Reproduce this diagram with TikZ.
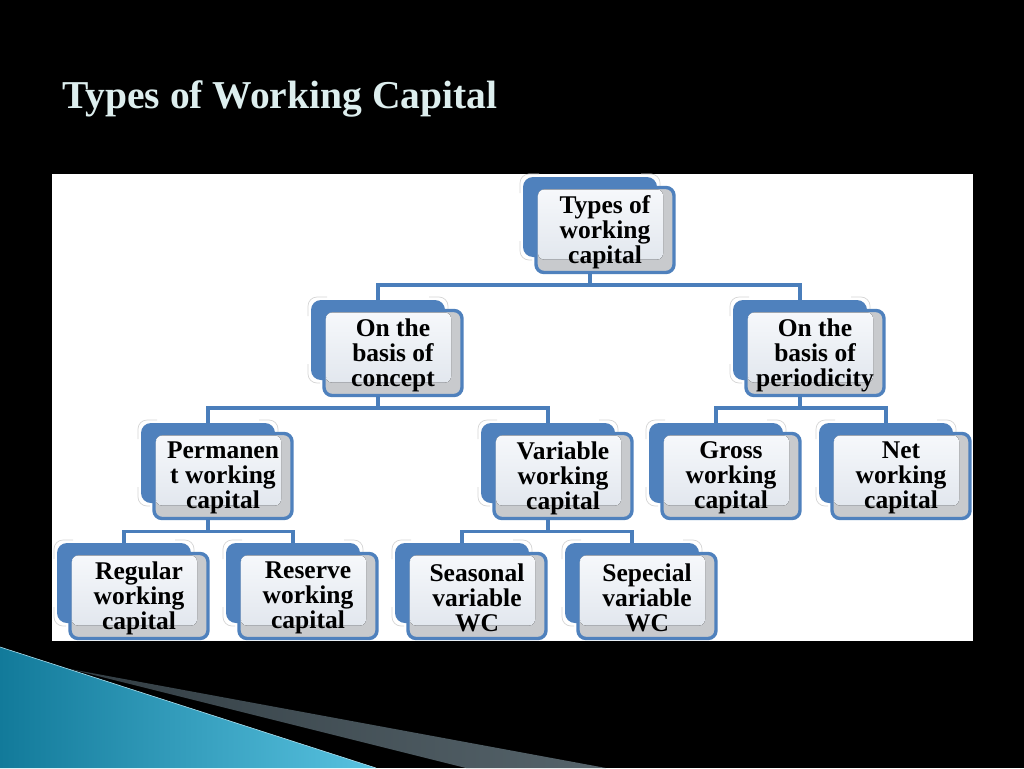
\documentclass[tikz,border=0pt]{standalone}
\usepackage{fontspec}
\setmainfont{Liberation Serif}
\usetikzlibrary{calc}
\definecolor{wcblue}{HTML}{4F81BD}
\definecolor{wcline}{HTML}{4A7EBB}
\definecolor{wcshadow}{HTML}{C8CACD}
\definecolor{wctop}{HTML}{F6F8FB}
\definecolor{wcbot}{HTML}{E2E7EE}
\definecolor{titlecol}{HTML}{DDEEEE}
\definecolor{tealdark}{HTML}{127A9A}
\definecolor{teallight}{HTML}{58C2E0}
\definecolor{slatedark}{HTML}{323D43}
\definecolor{slatelight}{HTML}{56646B}

\newcommand\wcbox[4]{%
  \node[backbox] (#1) at (#2,#3) {};
  \draw[glint] ([shift={(-3,16)}]#1.north west) -- ([shift={(-3,-3)}]#1.north west) -- ([shift={(16,-3)}]#1.north west);
  \draw[glint] ([shift={(-16,-3)}]#1.north east) -- ([shift={(3,-3)}]#1.north east) -- ([shift={(3,12)}]#1.north east);
  \draw[glint] ([shift={(-3,-16)}]#1.south west) -- ([shift={(-3,3)}]#1.south west) -- ([shift={(9,3)}]#1.south west);
  \node[frontbox] (#1F) at ([shift={(15,13)}]#1.center) {};
  \fill[innerfill] ([shift={(2,2)}]#1F.north west) rectangle ([shift={(-11,-13)}]#1F.south east);
  \draw[frontborder] (#1F.north west) rectangle (#1F.south east);
  \node[boxtext] (#1T) at ([shift={(0,2)}]#1F.center) {#4};
}

\begin{document}
\begin{tikzpicture}[x=1pt,y=-1pt,
  backbox/.style={rectangle, rounded corners=10pt, fill=wcblue, minimum width=134pt, minimum height=80pt, inner sep=0pt, outer sep=0pt},
  frontbox/.style={rectangle, rounded corners=8pt, fill=wcshadow, minimum width=138pt, minimum height=85pt, inner sep=0pt, outer sep=0pt},
  innerfill/.style={rounded corners=6pt, top color=wctop, bottom color=wcbot},
  frontborder/.style={draw=wcblue, line width=3.4pt, rounded corners=8pt},
  glint/.style={draw=black!16, line width=0.7pt, rounded corners=9pt},
  boxtext/.style={align=center, inner sep=0pt, font=\bfseries\fontsize{25.5}{25}\selectfont, text=black},
  conn/.style={draw=wcline, line width=3.6pt},
]
% background
\fill[black] (0,0) rectangle (1024,768);
\path[use as bounding box] (0,0) rectangle (1024,768);
% title
\node[anchor=base west, inner sep=0pt, text=titlecol, font=\bfseries\fontsize{39.5}{41}\selectfont] (title) at (62,108) {Types of Working Capital};
% white panel
\fill[white] (52,174) rectangle (973,641);
% bottom decoration
\shade[left color=slatedark, right color=slatelight] (70,669) -- (606,768) -- (466,768) -- cycle;
\shade[left color=tealdark, right color=teallight] (0,647) -- (376,768) -- (0,768) -- cycle;
\draw[teallight!50!white, line width=0.6pt] (0,647) -- (376,768);

% nodes
\wcbox{root}{590}{217}{Types of\\working\\capital}
\wcbox{concept}{378}{340}{On the\\basis of\\concept}
\wcbox{period}{800}{340}{On the\\basis of\\periodicity}
\wcbox{perm}{208}{463}{Permanen\\t working\\capital}
\wcbox{var}{548}{463}{Variable\\working\\capital}
\wcbox{gross}{716}{463}{Gross\\working\\capital}
\wcbox{net}{886}{463}{Net\\working\\capital}
\wcbox{regular}{124}{583}{Regular\\working\\capital}
\wcbox{reserve}{293}{583}{Reserve\\working\\capital}
\wcbox{seasonal}{462}{583}{Seasonal\\variable\\WC}
\wcbox{sepecial}{632}{583}{Sepecial\\variable\\WC}

% connectors
\draw[conn] (root |- rootF.south) -- ++(0,12.5) -| (concept.north);
\draw[conn] (root |- rootF.south) -- ++(0,12.5) -| (period.north);
\draw[conn] (concept |- conceptF.south) -- ++(0,12.5) -| (perm.north);
\draw[conn] (concept |- conceptF.south) -- ++(0,12.5) -| (var.north);
\draw[conn] (period |- periodF.south) -- ++(0,12.5) -| (gross.north);
\draw[conn] (period |- periodF.south) -- ++(0,12.5) -| (net.north);
\draw[conn] (perm |- permF.south) -- ++(0,13) -| (regular.north);
\draw[conn] (perm |- permF.south) -- ++(0,13) -| (reserve.north);
\draw[conn] (var |- varF.south) -- ++(0,13) -| (seasonal.north);
\draw[conn] (var |- varF.south) -- ++(0,13) -| (sepecial.north);
\end{tikzpicture}
\end{document}
